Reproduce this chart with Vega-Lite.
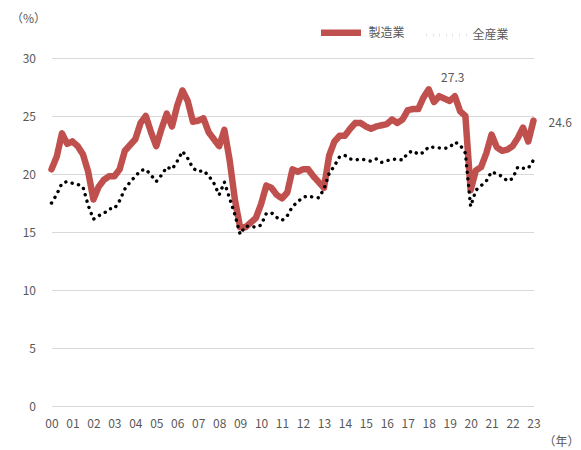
{
  "$schema": "https://vega.github.io/schema/vega-lite/v6.json",
  "width": 482,
  "height": 348,
  "autosize": {"type": "none"},
  "padding": {"left": 51.5, "top": 58, "right": 47.5, "bottom": 44},
  "background": "white",
  "config": {"font": "Noto Sans CJK JP", "view": {"stroke": null}, "axis": {"labelOverlap": false}},
  "data": {"values": [
    {"t": 2000, "製造業": 20.4, "全産業": 17.5},
    {"t": 2000.25, "製造業": 21.5, "全産業": 18.25},
    {"t": 2000.5, "製造業": 23.5, "全産業": 19.2},
    {"t": 2000.75, "製造業": 22.6, "全産業": 19.35},
    {"t": 2001, "製造業": 22.8, "全産業": 19.2},
    {"t": 2001.25, "製造業": 22.4, "全産業": 19.1},
    {"t": 2001.5, "製造業": 21.7, "全産業": 18.9},
    {"t": 2001.75, "製造業": 20.2, "全産業": 17.3},
    {"t": 2002, "製造業": 17.8, "全産業": 16.1},
    {"t": 2002.25, "製造業": 18.9, "全産業": 16.4},
    {"t": 2002.5, "製造業": 19.5, "全産業": 16.6},
    {"t": 2002.75, "製造業": 19.8, "全産業": 17.0},
    {"t": 2003, "製造業": 19.8, "全産業": 17.0},
    {"t": 2003.25, "製造業": 20.4, "全産業": 17.7},
    {"t": 2003.5, "製造業": 22.0, "全産業": 18.7},
    {"t": 2003.75, "製造業": 22.5, "全産業": 19.3},
    {"t": 2004, "製造業": 23.0, "全産業": 19.8},
    {"t": 2004.25, "製造業": 24.4, "全産業": 20.3},
    {"t": 2004.5, "製造業": 25.0, "全産業": 20.4},
    {"t": 2004.75, "製造業": 23.6, "全産業": 19.9},
    {"t": 2005, "製造業": 22.4, "全産業": 19.35},
    {"t": 2005.25, "製造業": 23.9, "全産業": 19.9},
    {"t": 2005.5, "製造業": 25.2, "全産業": 20.6},
    {"t": 2005.75, "製造業": 24.1, "全産業": 20.4},
    {"t": 2006, "製造業": 25.9, "全産業": 21.1},
    {"t": 2006.25, "製造業": 27.2, "全産業": 21.95},
    {"t": 2006.5, "製造業": 26.3, "全産業": 21.35},
    {"t": 2006.75, "製造業": 24.5, "全産業": 20.5},
    {"t": 2007, "製造業": 24.6, "全産業": 20.2},
    {"t": 2007.25, "製造業": 24.8, "全産業": 20.3},
    {"t": 2007.5, "製造業": 23.6, "全産業": 19.85},
    {"t": 2007.75, "製造業": 23.0, "全産業": 19.2},
    {"t": 2008, "製造業": 22.4, "全産業": 18.2},
    {"t": 2008.25, "製造業": 23.8, "全産業": 19.3},
    {"t": 2008.5, "製造業": 21.2, "全産業": 17.9},
    {"t": 2008.75, "製造業": 17.8, "全産業": 16.5},
    {"t": 2009, "製造業": 15.4, "全産業": 14.8},
    {"t": 2009.25, "製造業": 15.4, "全産業": 15.5},
    {"t": 2009.5, "製造業": 15.8, "全産業": 15.5},
    {"t": 2009.75, "製造業": 16.2, "全産業": 15.4},
    {"t": 2010, "製造業": 17.4, "全産業": 15.6},
    {"t": 2010.25, "製造業": 19.0, "全産業": 16.6},
    {"t": 2010.5, "製造業": 18.8, "全産業": 16.65},
    {"t": 2010.75, "製造業": 18.2, "全産業": 16.25},
    {"t": 2011, "製造業": 17.9, "全産業": 16.0},
    {"t": 2011.25, "製造業": 18.4, "全産業": 16.4},
    {"t": 2011.5, "製造業": 20.4, "全産業": 17.2},
    {"t": 2011.75, "製造業": 20.2, "全産業": 17.6},
    {"t": 2012, "製造業": 20.4, "全産業": 18.0},
    {"t": 2012.25, "製造業": 20.4, "全産業": 18.1},
    {"t": 2012.5, "製造業": 19.8, "全産業": 18.0},
    {"t": 2012.75, "製造業": 19.3, "全産業": 17.95},
    {"t": 2013, "製造業": 18.8, "全産業": 18.7},
    {"t": 2013.25, "製造業": 21.6, "全産業": 20.05},
    {"t": 2013.5, "製造業": 22.8, "全産業": 20.7},
    {"t": 2013.75, "製造業": 23.3, "全産業": 21.5},
    {"t": 2014, "製造業": 23.3, "全産業": 21.6},
    {"t": 2014.25, "製造業": 23.9, "全産業": 21.3},
    {"t": 2014.5, "製造業": 24.4, "全産業": 21.2},
    {"t": 2014.75, "製造業": 24.4, "全産業": 21.3},
    {"t": 2015, "製造業": 24.1, "全産業": 21.2},
    {"t": 2015.25, "製造業": 23.9, "全産業": 21.1},
    {"t": 2015.5, "製造業": 24.1, "全産業": 21.3},
    {"t": 2015.75, "製造業": 24.2, "全産業": 21.0},
    {"t": 2016, "製造業": 24.3, "全産業": 21.15},
    {"t": 2016.25, "製造業": 24.7, "全産業": 21.25},
    {"t": 2016.5, "製造業": 24.4, "全産業": 21.3},
    {"t": 2016.75, "製造業": 24.7, "全産業": 21.2},
    {"t": 2017, "製造業": 25.5, "全産業": 21.8},
    {"t": 2017.25, "製造業": 25.6, "全産業": 22.0},
    {"t": 2017.5, "製造業": 25.6, "全産業": 21.7},
    {"t": 2017.75, "製造業": 26.6, "全産業": 21.85},
    {"t": 2018, "製造業": 27.3, "全産業": 22.35},
    {"t": 2018.25, "製造業": 26.2, "全産業": 22.3},
    {"t": 2018.5, "製造業": 26.7, "全産業": 22.25},
    {"t": 2018.75, "製造業": 26.5, "全産業": 22.2},
    {"t": 2019, "製造業": 26.3, "全産業": 22.3},
    {"t": 2019.25, "製造業": 26.7, "全産業": 22.75},
    {"t": 2019.5, "製造業": 25.4, "全産業": 22.5},
    {"t": 2019.75, "製造業": 25.0, "全産業": 21.8},
    {"t": 2020, "製造業": 18.6, "全産業": 17.2},
    {"t": 2020.25, "製造業": 20.3, "全産業": 18.6},
    {"t": 2020.5, "製造業": 20.6, "全産業": 19.0},
    {"t": 2020.75, "製造業": 21.8, "全産業": 19.4},
    {"t": 2021, "製造業": 23.4, "全産業": 20.2},
    {"t": 2021.25, "製造業": 22.3, "全産業": 20.0},
    {"t": 2021.5, "製造業": 22.0, "全産業": 19.8},
    {"t": 2021.75, "製造業": 22.1, "全産業": 19.4},
    {"t": 2022, "製造業": 22.4, "全産業": 19.6},
    {"t": 2022.25, "製造業": 23.1, "全産業": 20.6},
    {"t": 2022.5, "製造業": 24.0, "全産業": 20.5},
    {"t": 2022.75, "製造業": 22.8, "全産業": 20.5},
    {"t": 2023, "製造業": 24.6, "全産業": 21.2}
  ]},
  "transform": [{"fold": ["製造業", "全産業"], "as": ["series", "v"]}],
  "layer": [
    {
      "mark": {"type": "line", "strokeCap": "round", "strokeJoin": "round"},
      "encoding": {
        "x": {
          "field": "t", "type": "quantitative",
          "scale": {"domain": [2000, 2023], "nice": false, "zero": false},
          "axis": {
            "values": [2000, 2001, 2002, 2003, 2004, 2005, 2006, 2007, 2008, 2009, 2010, 2011, 2012, 2013, 2014, 2015, 2016, 2017, 2018, 2019, 2020, 2021, 2022, 2023],
            "tickCount": 24,
            "labelExpr": "slice(toString(datum.value), 2)",
            "grid": false, "ticks": false, "domain": false,
            "labelFontSize": 12, "labelColor": "#595959", "labelPadding": 12,
            "labelFlush": false, "labelOverlap": false, "labelSeparation": 0, "labelBound": false,
            "title": "（年）", "titleFontSize": 12, "titleFontWeight": "normal", "titleColor": "#595959",
            "titleX": 509.5, "titleY": 35, "titleAlign": "center", "titleBaseline": "middle"
          }
        },
        "y": {
          "field": "v", "type": "quantitative",
          "scale": {"domain": [0, 30], "nice": false},
          "axis": {
            "values": [0, 5, 10, 15, 20, 25, 30],
            "grid": true, "gridColor": "#d9d9d9", "gridWidth": 1,
            "ticks": false, "domain": false,
            "labelFontSize": 12, "labelColor": "#595959", "labelPadding": 16,
            "title": "（%）", "titleAngle": 0, "titleFontSize": 12, "titleFontWeight": "normal", "titleColor": "#595959",
            "titleX": -23.5, "titleY": -40, "titleAlign": "center", "titleBaseline": "middle"
          }
        },
        "color": {
          "field": "series", "type": "nominal",
          "scale": {"domain": ["製造業", "全産業"], "range": ["#C0504D", "#000000"]},
          "legend": {
            "orient": "none", "legendX": 266, "legendY": -49, "direction": "horizontal",
            "title": null, "symbolType": "stroke", "symbolSize": 1600, "symbolOpacity": 1,
            "labelFontSize": 12, "labelColor": "#595959", "columnPadding": 14,
            "labelOffset": 4, "padding": 0
          }
        },
        "strokeDash": {
          "field": "series", "type": "nominal",
          "scale": {"domain": ["製造業", "全産業"], "range": [[1, 0], [0.1, 6.5]]}
        },
        "strokeWidth": {
          "field": "series", "type": "nominal",
          "scale": {"type": "point", "domain": ["製造業", "全産業"], "range": [6.5, 3.4], "padding": 0}
        }
      }
    },
    {
      "transform": [{"filter": "datum.series === '製造業' && datum.t === 2018"}],
      "mark": {"type": "text", "dx": 24, "dy": -11, "fontSize": 12, "color": "#595959", "align": "center", "baseline": "middle"},
      "encoding": {
        "x": {"field": "t", "type": "quantitative"},
        "y": {"field": "v", "type": "quantitative"},
        "text": {"field": "v", "type": "quantitative", "format": ".1f"}
      }
    },
    {
      "transform": [{"filter": "datum.series === '製造業' && datum.t === 2023"}],
      "mark": {"type": "text", "dx": 15, "dy": 2, "fontSize": 12, "color": "#595959", "align": "left", "baseline": "middle"},
      "encoding": {
        "x": {"field": "t", "type": "quantitative"},
        "y": {"field": "v", "type": "quantitative"},
        "text": {"field": "v", "type": "quantitative", "format": ".1f"}
      }
    }
  ]
}
